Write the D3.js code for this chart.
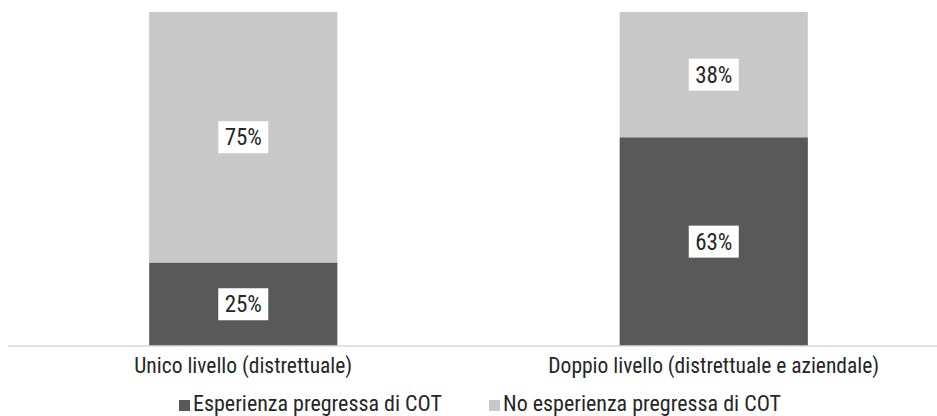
<!DOCTYPE html>
<html>
<head>
<meta charset="utf-8">
<script src="https://cdn.jsdelivr.net/npm/d3@7"></script>
<style>
  body { margin: 0; background: #fff; }
  text { font-family: "Roboto Condensed", "Liberation Sans Narrow", Roboto, sans-serif; fill: #262626; }
</style>
</head>
<body>
<div id="chart"></div>
<script>
var categories = ["Unico livello (distrettuale)", "Doppio livello (distrettuale e aziendale)"];
var series_names = ["Esperienza pregressa di COT", "No esperienza pregressa di COT"];
var esperienza = [25, 62.5];
var no_esperienza = [75, 37.5];
var colors = ["#595959", "#c8c8c8"];

var width = 937, height = 416;
var margin = {top: 12, right: -12, bottom: 70, left: 8};

var svg = d3.select("#chart")
  .append("svg")
  .attr("width", width)
  .attr("height", height);

var rows = categories.map(function(c, i){
  return {cat: c, esp: esperienza[i], no: no_esperienza[i]};
});
var stack = d3.stack().keys(["esp", "no"])(rows);

var x = d3.scaleBand()
  .domain(categories)
  .range([margin.left, width - margin.right])
  .paddingInner(0.6)
  .paddingOuter(0.3);

var y = d3.scaleLinear()
  .domain([0, 100])
  .range([height - margin.bottom, margin.top]);

// bars
var layer = svg.selectAll("g.layer")
  .data(stack)
  .join("g")
  .attr("class", "layer")
  .attr("fill", (d, i) => colors[i]);

layer.selectAll("rect")
  .data(d => d)
  .join("rect")
  .attr("x", d => x(d.data.cat))
  .attr("y", d => y(d[1]))
  .attr("width", x.bandwidth())
  .attr("height", d => y(d[0]) - y(d[1]));

// value labels in white boxes
stack.forEach(function(s){
  s.forEach(function(d){
    var cx = x(d.data.cat) + x.bandwidth() / 2;
    var cy = (y(d[0]) + y(d[1])) / 2;
    var g = svg.append("g").attr("transform", "translate(" + cx + "," + cy + ")");
    g.append("rect")
      .attr("x", -25).attr("y", -16)
      .attr("width", 50).attr("height", 32)
      .attr("fill", "#fff");
    g.append("text")
      .attr("text-anchor", "middle")
      .attr("y", 8)
      .style("font-size", "23px")
      .text(Math.round(d[1] - d[0]) + "%");
  });
});

// x axis
var xAxis = svg.append("g")
  .attr("transform", "translate(0," + y(0) + ")")
  .call(d3.axisBottom(x).tickSize(0));
xAxis.select(".domain").remove();
xAxis.append("line")
  .attr("x1", margin.left).attr("x2", width)
  .attr("stroke", "#d9d9d9").attr("stroke-width", 1.5);
xAxis.selectAll(".tick text")
  .attr("y", 27)
  .attr("dy", null)
  .style("font-size", "21.5px")
  .attr("fill", "#262626");

// legend
var legendX = [179, 489];
var legend = svg.selectAll("g.legend")
  .data(series_names)
  .join("g")
  .attr("class", "legend")
  .attr("transform", (d, i) => "translate(" + legendX[i] + ",411)");
legend.append("rect")
  .attr("x", 0).attr("y", -11)
  .attr("width", 11).attr("height", 11)
  .attr("fill", (d, i) => colors[i]);
legend.append("text")
  .attr("x", 14)
  .style("font-size", "22px")
  .text(d => d);
</script>
</body>
</html>
